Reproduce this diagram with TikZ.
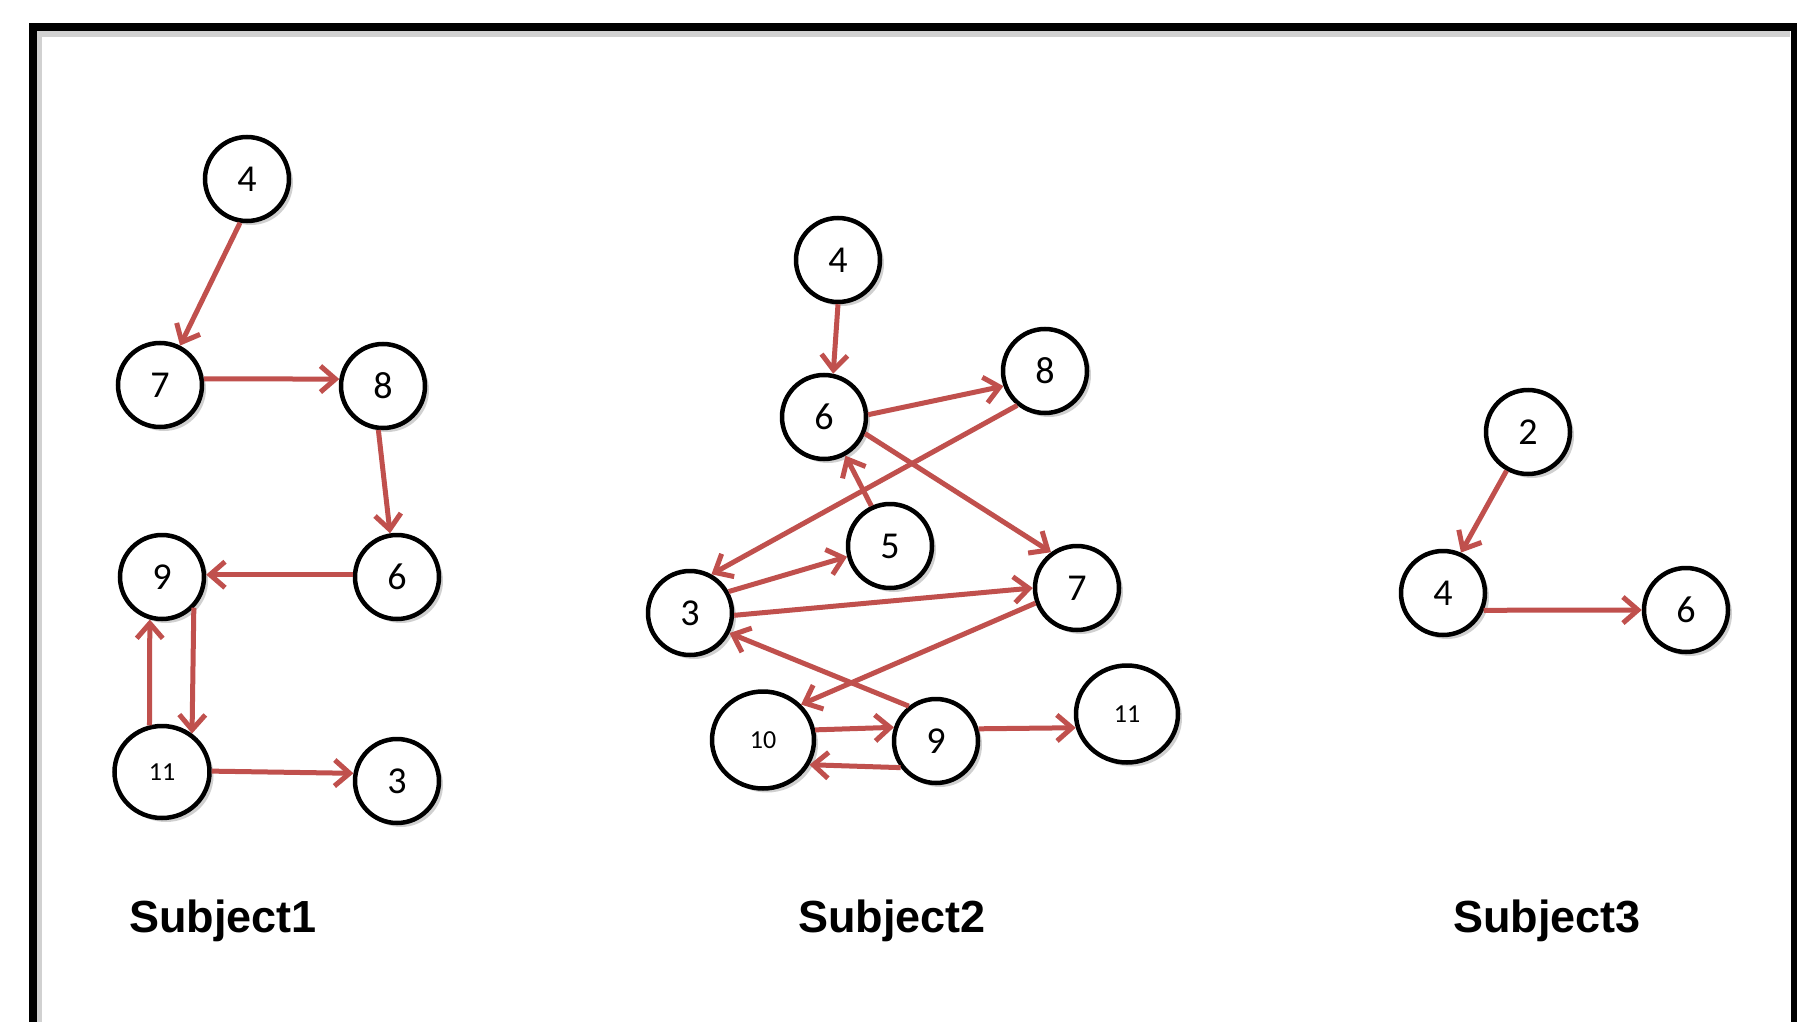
\documentclass[tikz,border=0pt]{standalone}
\usepackage{fontspec}
\setmainfont{Carlito}
\newfontfamily\labelfont{Liberation Sans}
\usetikzlibrary{arrows.meta,shadows,shapes.geometric}
\definecolor{arrowred}{RGB}{192,80,77}
\begin{document}
\begin{tikzpicture}[x=1pt,y=-1pt,
  vshadow/.style={drop shadow={shadow xshift=4pt,shadow yshift=-4pt,opacity=0.3,fill=black!60}},
  vertex/.style={circle,draw=black,line width=4.5pt,fill=white,minimum size=84pt,inner sep=0pt,
    font=\fontsize{38pt}{40pt}\selectfont,vshadow},
  bigvertex/.style={ellipse,draw=black,line width=4.5pt,fill=white,minimum width=102pt,minimum height=97pt,
    inner sep=0pt,font=\fontsize{26pt}{30pt}\selectfont,vshadow},
  conn/.style={draw=arrowred,line width=5pt,-{Straight Barb[length=15pt,width=26pt,line width=5pt]}},
  lab/.style={anchor=base,font=\labelfont\bfseries\fontsize{45pt}{50pt}\selectfont,text=black}
]
\useasboundingbox (0,0) rectangle (1797,1022);
\fill[white] (0,0) rectangle (1797,1022);
% frame shadow and frame
\draw[black!18,line width=6pt] (39,1040) -- (39,34) -- (1790,34);
\draw[black,line width=8pt] (32.5,27) rectangle (1795,1040);

% Subject 1
\node[vertex] (a4) at (247,179) {4};
\node[vertex] (a7) at (160,385) {7};
\node[vertex] (a8) at (383,386) {8};
\node[vertex] (a6) at (397,577) {6};
\node[vertex] (a9) at (162,577) {9};
\node[bigvertex,minimum width=95pt,minimum height=92pt] (a11) at (162,772) {11};
\node[vertex] (a3) at (397,781) {3};

\draw[conn] (a4.-99) -- (a7.63);
\draw[conn] (a7.8) -- (a8.171);
\draw[conn] (a8.-96) -- (a6.99);
\draw[conn] (a6.177) -- (a9.3);
\draw[conn] (a9.-44) -- (a11.52);
\draw[conn] (a11.105) -- (a9.-106);
\draw[conn] (a11.1) -- (a3.170);

% Subject 2
\node[vertex] (b4) at (838,260) {4};
\node[vertex] (b6) at (824,417) {6};
\node[vertex] (b8) at (1045,371) {8};
\node[vertex] (b5) at (890,546) {5};
\node[vertex] (b3) at (690,613) {3};
\node[vertex] (b7) at (1077,588) {7};
\node[bigvertex] (b10) at (763,740) {10};
\node[vertex] (b9) at (936,741) {9};
\node[bigvertex] (b11) at (1127,714) {11};

\draw[conn] (b4.-90) -- (b6.78);
\draw[conn] (b6.3) -- (b8.200);
\draw[conn] (b6.-22) -- (b7.126);
\draw[conn] (b8.231) -- (b3.61);
\draw[conn] (b5.115) -- (b6.-61);
\draw[conn] (b3.29) -- (b5.194);
\draw[conn] (b3.-3) -- (b7.180);
\draw[conn] (b7.200) -- (b10.43);
\draw[conn] (b9.128) -- (b3.-27);
\draw[conn] (b10.11) -- (b9.162);
\draw[conn] (b9.217) -- (b10.-28);
\draw[conn] (b9.16) -- (b11.195);

% Subject 3
\node[vertex] (c2) at (1528,432) {2};
\node[vertex] (c4) at (1443,593) {4};
\node[vertex] (c6) at (1686,610) {6};

\draw[conn] (c2.241) -- (c4.66);
\draw[conn] (c4.-23) -- (c6.180);

% labels
\node[lab] (s1) at (223,932) {Subject1};
\node[lab] (s2) at (892,932) {Subject2};
\node[lab] (s3) at (1547,932) {Subject3};
\end{tikzpicture}
\end{document}
